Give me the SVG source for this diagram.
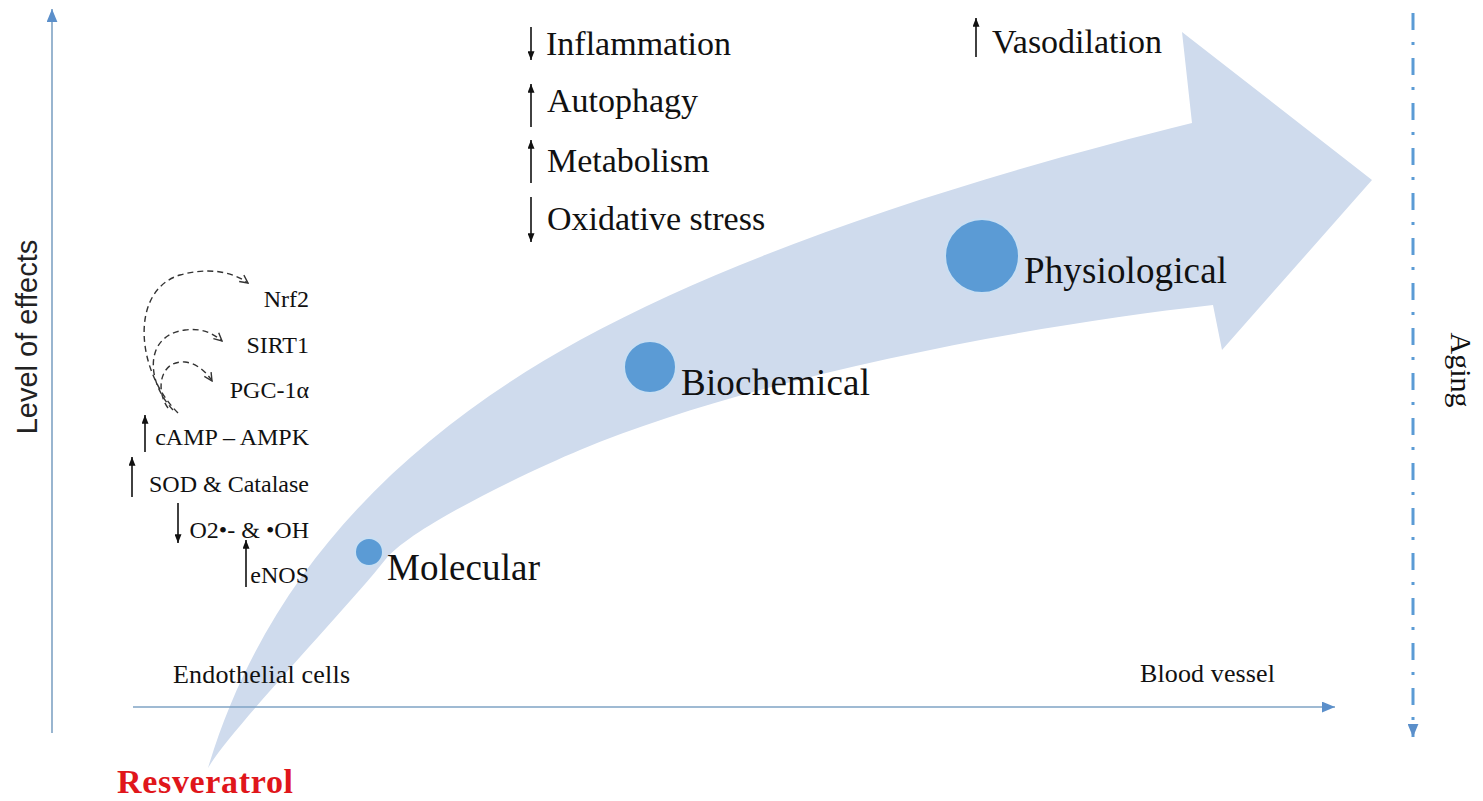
<svg xmlns="http://www.w3.org/2000/svg" width="1483" height="801" viewBox="0 0 1483 801">
<style>
.t{font-family:"Liberation Serif","Times New Roman",serif;fill:#111}
.sm{font-size:24px}
.top{font-size:34px}
.stage{font-size:37px}
.ax{font-size:26px}
.mk{stroke:#111;stroke-width:1.6;fill:none}
.dot{fill:#5b9bd5;stroke:#c9def2;stroke-width:2}
.dash{fill:none;stroke:#333;stroke-width:1.4;stroke-dasharray:6 4}
.axis{stroke:#7fa3c4;stroke-width:1.6;fill:none}
</style>
<defs>
<marker id="ah" viewBox="0 0 10 8" refX="10" refY="4" markerWidth="9" markerHeight="7" markerUnits="userSpaceOnUse" orient="auto"><path d="M0,0 L10,4 L0,8 z" fill="#111"/></marker>
<marker id="open" viewBox="0 0 10 10" refX="9" refY="5" markerWidth="10" markerHeight="10" markerUnits="userSpaceOnUse" orient="auto"><path d="M1,1 L9,5 L1,9" fill="none" stroke="#333" stroke-width="1.4" stroke-dasharray="none"/></marker>
<marker id="blue" viewBox="0 0 12 10" refX="12" refY="5" markerWidth="13" markerHeight="11" markerUnits="userSpaceOnUse" orient="auto"><path d="M0,0 L12,5 L0,10 z" fill="#5b8fca"/></marker>
</defs>
<rect width="1483" height="801" fill="#fff"/>

<g id="big-arrow">
<path d="M208,768 C270,560 420,428 580,340 C755,244 998,171 1192,123 L1182,32 L1372,180 L1222,350 L1213,305 C1013,327 744,381 580,450 C525,473 410,528 385,560 C348,607 230,730 208,768 Z" fill="#cfdbed"/>
</g>

<g id="connectors">
<line class="axis" x1="52" y1="733" x2="52" y2="9" marker-end="url(#blue)"/>
<line class="axis" x1="133" y1="707" x2="1335" y2="707" marker-end="url(#blue)"/>
<line x1="1413" y1="13" x2="1413" y2="737" stroke="#5b9bd5" stroke-width="3" stroke-dasharray="17 12 3 13" marker-end="url(#blue)"/>
<path class="dash" d="M178,413 C135,370 130,290 180,275 C205,268 230,270 248,283" marker-end="url(#open)"/>
<path class="dash" d="M173,410 C145,380 145,335 185,330 C200,328 212,332 222,341" marker-end="url(#open)"/>
<path class="dash" d="M168,408 C155,390 160,360 185,362 C195,363 205,370 212,381" marker-end="url(#open)"/>
</g>

<g id="molecular">
<circle class="dot" cx="369" cy="552" r="14"/>
<text class="t stage" x="387" y="580" textLength="153">Molecular</text>
</g>
<g id="biochemical">
<circle class="dot" cx="650" cy="367" r="26"/>
<text class="t stage" x="681" y="395" textLength="189">Biochemical</text>
</g>
<g id="physiological">
<circle class="dot" cx="982" cy="256" r="37"/>
<text class="t stage" x="1024" y="283" textLength="203">Physiological</text>
</g>

<g id="molecular-effects">
<text class="t sm" x="309" y="307" text-anchor="end">Nrf2</text>
<text class="t sm" x="309" y="353" text-anchor="end">SIRT1</text>
<text class="t sm" x="309" y="398" text-anchor="end">PGC-1α</text>
<line class="mk" x1="145" y1="452" x2="145" y2="415" marker-end="url(#ah)"/>
<text class="t sm" x="309" y="445" text-anchor="end">cAMP – AMPK</text>
<line class="mk" x1="132" y1="497" x2="132" y2="457" marker-end="url(#ah)"/>
<text class="t sm" x="309" y="492" text-anchor="end">SOD &amp; Catalase</text>
<line class="mk" x1="178" y1="503" x2="178" y2="543" marker-end="url(#ah)"/>
<text class="t sm" x="309" y="538" text-anchor="end">O2•- &amp; •OH</text>
<line class="mk" x1="246" y1="587" x2="246" y2="540" marker-end="url(#ah)"/>
<text class="t sm" x="309" y="583" text-anchor="end">eNOS</text>
</g>

<g id="biochemical-effects">
<line class="mk" x1="531" y1="27" x2="531" y2="60" marker-end="url(#ah)"/>
<text class="t top" x="546" y="55">Inflammation</text>
<line class="mk" x1="531" y1="127" x2="531" y2="84" marker-end="url(#ah)"/>
<text class="t top" x="547" y="112">Autophagy</text>
<line class="mk" x1="531" y1="183" x2="531" y2="140" marker-end="url(#ah)"/>
<text class="t top" x="547" y="172">Metabolism</text>
<line class="mk" x1="531" y1="197" x2="531" y2="242" marker-end="url(#ah)"/>
<text class="t top" x="547" y="230">Oxidative stress</text>
</g>

<g id="physiological-effects">
<line class="mk" x1="976" y1="57" x2="976" y2="18" marker-end="url(#ah)"/>
<text class="t top" x="992" y="53">Vasodilation</text>
</g>

<g id="labels">
<text class="t" x="37" y="337" transform="rotate(-90 37 337)" text-anchor="middle" style="font-family:'Liberation Sans',Arial,sans-serif;font-size:29px;fill:#222">Level of effects</text>
<text class="t" x="1451" y="370" transform="rotate(90 1451 370)" text-anchor="middle" style="font-size:30px">Aging</text>
<text class="t ax" x="173" y="683" textLength="177">Endothelial cells</text>
<text class="t ax" x="1140" y="682" textLength="135">Blood vessel</text>
</g>

<g id="resveratrol">
<text class="t" x="117" y="793" textLength="176" style="font-size:34px;font-weight:bold;fill:#e0161b">Resveratrol</text>
</g>
</svg>
